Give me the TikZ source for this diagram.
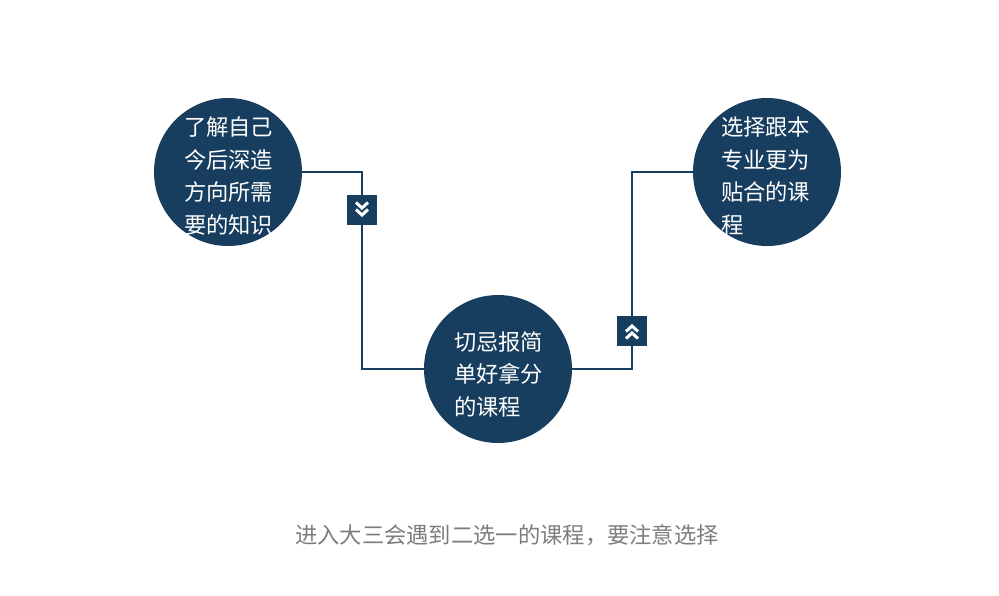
\documentclass[tikz,border=0pt]{standalone}
\usepackage{fontspec}
\newfontfamily\cjk{Noto Sans CJK SC}
\usetikzlibrary{positioning}
\definecolor{navy}{RGB}{23,62,94}
\definecolor{capgray}{RGB}{125,125,125}
\tikzset{
  dot/.style={circle,fill=navy,minimum size=148pt,inner sep=0pt},
  txt/.style={text=white,text width=92pt,align=left,inner sep=0pt},
  icon/.style={rectangle,fill=navy,minimum size=30pt,inner sep=0pt},
  wire/.style={draw=navy,line width=2pt},
  chev/.style={draw=white,line width=3pt,line cap=butt,line join=miter}
}
\begin{document}
\begin{tikzpicture}[x=1pt,y=-1pt,font=\cjk\fontsize{22.3}{32.5}\selectfont]
  \useasboundingbox (0,0) rectangle (999,595);
  % circles
  \node[dot] (c1) at (228,172) {};
  \node[dot] (c2) at (498,369) {};
  \node[dot] (c3) at (767,172) {};
  \node[txt] (t1) at (230,176) {了解自己\\今后深造\\方向所需\\要的知识};
  \node[txt] (t2) at (500,374) {切忌报简\\单好拿分\\的课程};
  \node[txt] (t3) at (767,176) {选择跟本\\专业更为\\贴合的课\\程};
  % icons
  \node[icon] (ic1) at (362,210) {};
  \node[icon] (ic2) at (632,331) {};
  \draw[chev] ([xshift=-6pt,yshift=7.5pt]ic1.center) -- ([yshift=2pt]ic1.center) -- ([xshift=6pt,yshift=7.5pt]ic1.center);
  \draw[chev] ([xshift=-6pt,yshift=0.5pt]ic1.center) -- ([yshift=-5pt]ic1.center) -- ([xshift=6pt,yshift=0.5pt]ic1.center);
  \draw[chev] ([xshift=-6pt,yshift=-7.5pt]ic2.center) -- ([yshift=-2pt]ic2.center) -- ([xshift=6pt,yshift=-7.5pt]ic2.center);
  \draw[chev] ([xshift=-6pt,yshift=-0.5pt]ic2.center) -- ([yshift=5pt]ic2.center) -- ([xshift=6pt,yshift=-0.5pt]ic2.center);
  % connectors
  \draw[wire] (c1.east) -| (ic1.north);
  \draw[wire] (ic1.south) |- (c2.west);
  \draw[wire] (c2.east) -| (ic2.south);
  \draw[wire] (ic2.north) |- (c3.west);
  % caption
  \node[text=capgray] (cap) at (507,535) {进入大三会遇到二选一的课程，要注意选择};
\end{tikzpicture}
\end{document}
